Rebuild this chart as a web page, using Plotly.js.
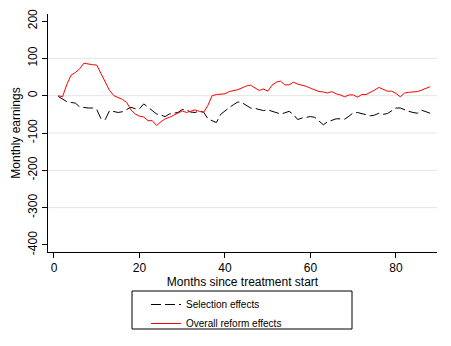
<!DOCTYPE html>
<html>
<head>
<meta charset="utf-8">
<script src="https://cdn.plot.ly/plotly-3.0.1.min.js"></script>
<style>
  html, body { margin: 0; padding: 0; background: #fff; }
  #chart { width: 451px; height: 346px; }
</style>
</head>
<body>
<div id="chart"></div>
<script>
  // Months since treatment start, 1..88
  var months = [];
  for (var m = 1; m <= 88; m++) months.push(m);

  // One value per month
  var selectionEffects = [
    -2, -10, -16, -18, -20, -30, -32, -33, -33, -37,
    -62, -64, -40, -42, -45, -43, -38, -31, -35, -35,
    -22, -31, -39, -49, -52, -56, -49, -47, -45, -37,
    -38, -44, -45, -41, -44, -62, -67, -72, -50, -40,
    -32, -24, -17, -19, -27, -33, -34, -37, -40, -38,
    -41, -45, -49, -46, -42, -50, -64, -60, -57, -56,
    -58, -68, -78, -70, -66, -62, -62, -63, -55, -46,
    -45, -47, -51, -54, -52, -47, -50, -48, -40, -33,
    -33, -38, -42, -45, -47, -39, -42, -47
  ];

  var overallEffects = [
    0, -3, 30, 55, 62, 72, 87, 84, 83, 82,
    58, 35, 14, 0, -5, -10, -18, -38, -49, -55,
    -57, -67, -67, -80, -70, -62, -58, -53, -47, -41,
    -45, -41, -38, -42, -45, -26, 0, 3, 4, 5,
    11, 13, 16, 21, 26, 28, 20, 14, 18, 12,
    28, 36, 39, 29, 29, 36, 31, 29, 25, 20,
    15, 11, 10, 7, 11, 5, 2, -3, 2, 2,
    -4, 3, 3, 8, 15, 22, 18, 12, 12, 6,
    -3, 7, 9, 9, 11, 15, 20, 24
  ];

  var xTicks = [0, 20, 40, 60, 80];
  var yTicks = [-400, -300, -200, -100, 0, 100, 200];
  var gridValues = [-300, -200, -100, 0, 100];

  var FONT = "Liberation Sans, Arial, sans-serif";

  var traces = [
    {
      type: "scatter", mode: "lines", name: "Selection effects",
      x: months, y: selectionEffects,
      line: { color: "#000", width: 1, dash: "10px,4px" }
    },
    {
      type: "scatter", mode: "lines", name: "Overall reform effects",
      x: months, y: overallEffects,
      line: { color: "#ff0000", width: 1 }
    }
  ];

  var shapes = gridValues.map(function (v) {
    return {
      type: "line", layer: "below",
      xref: "paper", x0: 0, x1: 1,
      yref: "y", y0: v, y1: v,
      line: { color: "#e4e4e4", width: 1 }
    };
  });
  // legend frame (drawn by hand so it can be wider than its text)
  shapes.push({
    type: "rect", xref: "paper", yref: "paper",
    x0: (132 - 48) / 389, x1: (352 - 48) / 389,
    y0: (252 - 329) / 238, y1: (252 - 291) / 238,
    line: { color: "#000", width: 1 }
  });

  var layout = {
    width: 451, height: 346,
    margin: { l: 48, r: 14, t: 14, b: 94, autoexpand: false },
    paper_bgcolor: "#fff", plot_bgcolor: "#fff",
    font: { family: FONT, size: 12, color: "#000" },
    showlegend: true,
    legend: {
      x: (146 - 48) / 389, y: (252 - 290) / 238,
      xanchor: "left", yanchor: "top",
      bgcolor: "rgba(0,0,0,0)", borderwidth: 0,
      font: { family: FONT, size: 10, color: "#000" },
      tracegroupgap: 0
    },
    xaxis: {
      range: [-1.4, 89.6],
      tickvals: xTicks, ticktext: xTicks.map(String),
      showgrid: false, zeroline: false,
      showline: true, linecolor: "#000", linewidth: 1,
      ticks: "outside", ticklen: 5, tickcolor: "#000",
      tickfont: { size: 12 },
      title: { text: "Months since treatment start", font: { size: 12 }, standoff: 0 },
      automargin: true
    },
    yaxis: {
      range: [-418.8, 218.8],
      tickvals: yTicks, ticktext: yTicks.map(String),
      tickangle: -90,
      showgrid: false, zeroline: false,
      showline: true, linecolor: "#000", linewidth: 1,
      ticks: "outside", ticklen: 5, tickcolor: "#000",
      tickfont: { size: 12 },
      title: { text: "Monthly earnings", font: { size: 12 }, standoff: 3 },
      automargin: true
    },
    shapes: shapes
  };

  Plotly.newPlot("chart", traces, layout, { displayModeBar: false, responsive: false });
</script>
</body>
</html>
